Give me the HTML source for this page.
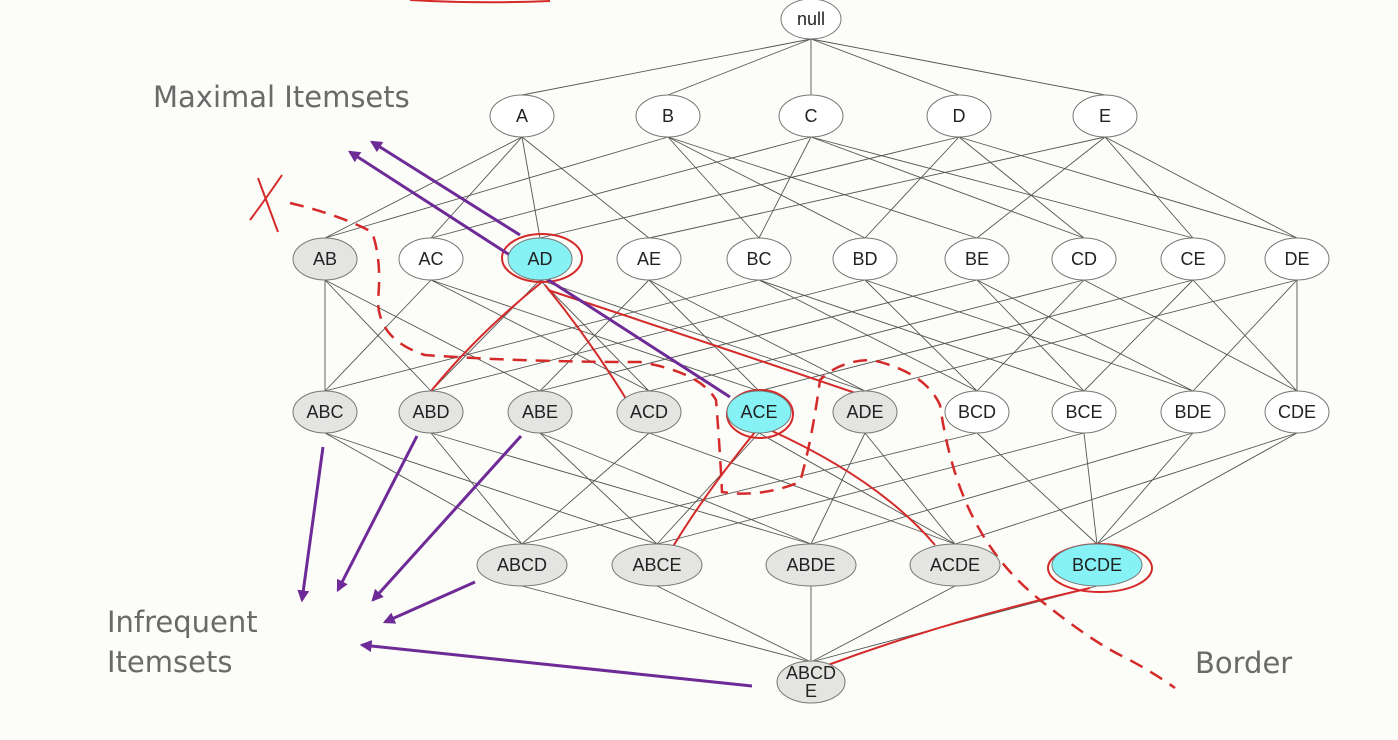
<!DOCTYPE html>
<html><head><meta charset="utf-8"><style>
html,body{margin:0;padding:0;background:#fcfcf8;}
svg{display:block;font-family:"Liberation Sans",sans-serif;}
.lbl{font-family:"DejaVu Sans","Liberation Sans",sans-serif;fill:#6a6a6a;font-size:29px;}
</style></head><body>
<svg id="chart" width="1398" height="740" viewBox="0 0 1398 740">
<defs><marker id="ah" viewBox="0 0 10 10" refX="8" refY="5" markerWidth="4" markerHeight="4" orient="auto"><path d="M0 0 L10 5 L0 10 z" fill="#6e2a96"/></marker></defs>
<rect width="1398" height="740" fill="#fcfcf8"/>
<g id="edges"></g>
<g id="marks">
 <path d="M410 0 Q480 4 550 1" stroke="#d42a2a" stroke-width="2" fill="none"/>
 <path d="M258 178 L278 232 M250 220 Q265 200 282 175" stroke="#d42a2a" stroke-width="2" fill="none"/>
 <path d="M290 203 Q340 215 372 232 Q382 260 378 300 Q378 340 425 355 Q520 362 640 362 Q700 372 716 400 Q720 450 722 492 Q760 498 800 482 Q812 440 820 380 Q840 360 872 360 Q925 372 940 405 Q948 460 965 500 Q990 560 1040 600 Q1090 640 1120 655 Q1150 670 1175 688" stroke="#d42a2a" stroke-width="2.5" stroke-dasharray="14 9" fill="none"/>
 <g stroke="#d42a2a" stroke-width="2" fill="none">
  <path d="M542 282 Q470 340 420 405"/>
  <path d="M545 285 Q590 340 628 402"/>
  <path d="M548 290 Q700 340 870 398"/>
  <path d="M755 432 Q700 500 668 555"/>
  <path d="M770 430 Q880 480 935 545"/>
  <path d="M1090 588 Q950 620 828 665"/>
  <ellipse cx="542" cy="258" rx="40" ry="24"/>
  <ellipse cx="760" cy="414" rx="33" ry="24"/>
  <ellipse cx="1100" cy="568" rx="52" ry="24"/>
 </g>
 <g stroke="#6e2a96" stroke-width="3" fill="none" marker-end="url(#ah)">
  <path d="M520 235 L372 142"/><path d="M730 397 L350 152"/><path d="M323 447 L302 600"/>
  <path d="M417 436 L338 590"/><path d="M521 436 L373 600"/><path d="M475 582 L385 622"/><path d="M752 686 L362 645"/>
 </g>
</g>
<g id="nodes"></g>
<text class="lbl" x="153" y="107">Maximal Itemsets</text>
<text class="lbl" x="107" y="632">Infrequent</text>
<text class="lbl" x="107" y="672">Itemsets</text>
<text class="lbl" x="1195" y="673">Border</text>
</svg>
<script>
const levels = [["null"],["A","B","C","D","E"],["AB","AC","AD","AE","BC","BD","BE","CD","CE","DE"],["ABC","ABD","ABE","ACD","ACE","ADE","BCD","BCE","BDE","CDE"],["ABCD","ABCE","ABDE","ACDE","BCDE"],["ABCDE"]];
const levelY = [19,116,259,412,565,682];
const levelX = [[811],[522,668,811,959,1105],[325,431,540,649,759,865,977,1084,1193,1297],[325,431,540,649,759,865,977,1084,1193,1297],[522,657,811,955,1097],[811]];
const infrequent = ["AB","ABC","ABD","ABE","ACD","ADE","ABCD","ABCE","ABDE","ACDE","ABCDE"];
const maximal = ["AD","ACE","BCDE"];
const NS="http://www.w3.org/2000/svg";
const eg=document.getElementById('edges'), ng=document.getElementById('nodes');
const set=n=>n==="null"?"":n;
function ry(l){return l===0?20:21;}
for(let l=0;l<levels.length-1;l++){
 levels[l].forEach((a,i)=>{levels[l+1].forEach((b,j)=>{
  if([...set(a)].every(c=>b.includes(c))){
   const p=document.createElementNS(NS,'line');
   p.setAttribute('x1',levelX[l][i]);p.setAttribute('y1',levelY[l]+ry(l));
   p.setAttribute('x2',levelX[l+1][j]);p.setAttribute('y2',levelY[l+1]-(l+1===5?20:21));
   p.setAttribute('stroke','#555');p.setAttribute('stroke-width','0.9');
   
   
   eg.appendChild(p);
  }});});
}
levels.forEach((lv,l)=>lv.forEach((n,i)=>{
 const g=document.createElementNS(NS,'g');
 
 
 const e=document.createElementNS(NS,'ellipse');
 e.setAttribute('cx',levelX[l][i]);e.setAttribute('cy',levelY[l]);
 e.setAttribute('rx',l===0?30:(l===4?45:(l===5?34:32)));e.setAttribute('ry',l===5?21:ry(l));
 e.setAttribute('fill',maximal.includes(n)?'#86f2f6':infrequent.includes(n)?'#e4e4e2':'#ffffff');
 e.setAttribute('stroke','#777');e.setAttribute('stroke-width','1');
 g.appendChild(e);
 const lines = n==="ABCDE"?["ABCD","E"]:[n];
 lines.forEach((t,k)=>{
  const tx=document.createElementNS(NS,'text');
  tx.setAttribute('x',levelX[l][i]);
  tx.setAttribute('y',levelY[l]+6+(lines.length>1?(k*18-9):0));
  tx.setAttribute('text-anchor','middle');tx.setAttribute('font-size','18');tx.setAttribute('fill','#222');
  tx.textContent=t;g.appendChild(tx);
 });
 ng.appendChild(g);
}));
</script>
</body></html>
